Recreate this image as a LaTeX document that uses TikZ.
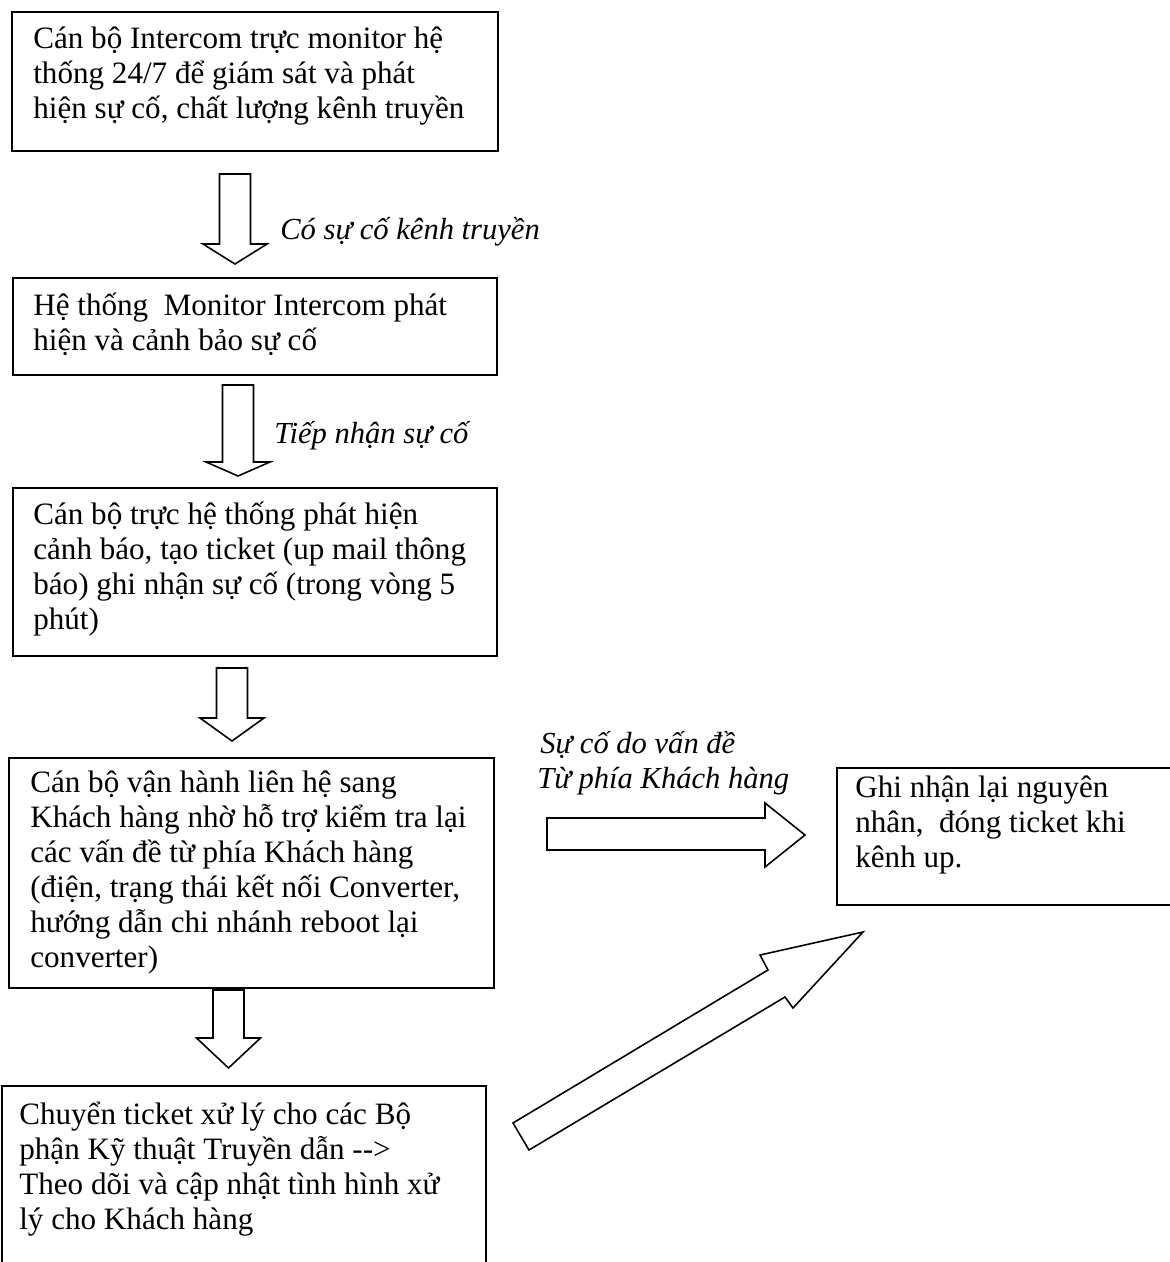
\documentclass[tikz,border=0pt]{standalone}
\usepackage{fontspec}
\setmainfont{Liberation Serif}

\tikzset{
  box/.style={draw, line width=1.1pt, anchor=north west, inner sep=0pt},
  boxtext/.style={anchor=base west, align=left, inner sep=0pt,
    font=\fontsize{17.7}{19.92}\selectfont},
  note/.style={anchor=base west, inner sep=0pt,
    font=\fontsize{17.4}{19.92}\selectfont\itshape},
  blockarrow/.style={draw, line width=0.9pt, fill=white, line join=miter}
}

% hollow arrow pointing down: centre x, top, start of head, tip
\newcommand{\downblock}[4]{%
  \draw[blockarrow] ({#1-15.5},#2) -- ({#1+15.5},#2) -- ({#1+15.5},#3)
    -- ({#1+32},#3) -- (#1,#4) -- ({#1-32},#3) -- ({#1-15.5},#3) -- cycle;}

\begin{document}
\begin{tikzpicture}[x=0.02cm, y=-0.02cm]
\useasboundingbox (0,0) rectangle (1170,1262);
\clip (0,0) rectangle (1170,1262);

% boxes
\node[box, minimum width=9.72cm, minimum height=2.78cm] (monitor) at (11,11) {};
\node[box, minimum width=9.68cm, minimum height=1.94cm] (alarm) at (12,277) {};
\node[box, minimum width=9.68cm, minimum height=3.36cm] (ticket) at (12,487) {};
\node[box, minimum width=9.70cm, minimum height=4.60cm] (contact) at (8,757) {};
\node[box, minimum width=7.40cm, minimum height=2.74cm] (close) at (836,767) {};
\node[box, minimum width=9.68cm, minimum height=4.40cm] (transfer) at (1,1085) {};

% texts (placed by the baseline of the last line)
\node[boxtext] (t-monitor) at (33,118) {Cán bộ Intercom trực monitor hệ\\
  thống 24/7 để giám sát và phát\\hiện sự cố, chất lượng kênh truyền};
\node[boxtext] (t-alarm) at (33,350) {Hệ thống\ \ Monitor Intercom phát\\
  hiện và cảnh bảo sự cố};
\node[boxtext] (t-ticket) at (33,629) {Cán bộ trực hệ thống phát hiện\\
  cảnh báo, tạo ticket (up mail thông\\báo) ghi nhận sự cố (trong vòng 5\\phút)};
\node[boxtext] (t-contact) at (30,967) {Cán bộ vận hành liên hệ sang\\
  Khách hàng nhờ hỗ trợ kiểm tra lại\\các vấn đề từ phía Khách hàng\\
  (điện, trạng thái kết nối Converter,\\hướng dẫn chi nhánh reboot lại\\converter)};
\node[boxtext] (t-close) at (855,867) {Ghi nhận lại nguyên\\
  nhân,\ \ đóng ticket khi\\kênh up.};
\node[boxtext] (t-transfer) at (19,1229) {Chuyển ticket xử lý cho các Bộ\\
  phận Kỹ thuật Truyền dẫn -{}->\\Theo dõi và cập nhật tình hình xử\\lý cho Khách hàng};

% down arrows
\downblock{235}{174}{244}{264}
\downblock{238}{385}{462}{476}
\downblock{232}{668}{718}{741}
\downblock{228.5}{990}{1038}{1068}

% arrow to the right
\draw[blockarrow] (547,818) -- (765,818) -- (765,803) -- (805,835)
  -- (765,867) -- (765,850) -- (547,850) -- cycle;

% slanted arrow
\draw[blockarrow] (513,1123) -- (768,970) -- (760,955) -- (863,932)
  -- (793,1008) -- (785,997) -- (529,1150) -- cycle;

% labels
\node[note] (l-fault) at (280,239) {Có sự cố kênh truyền};
\node[note] (l-receive) at (274,443) {Tiếp nhận sự cố};
\node[note] (l-cause1) at (540,753) {Sự cố do vấn đề};
\node[note] (l-cause2) at (537,788) {Từ phía Khách hàng};
\end{tikzpicture}
\end{document}
